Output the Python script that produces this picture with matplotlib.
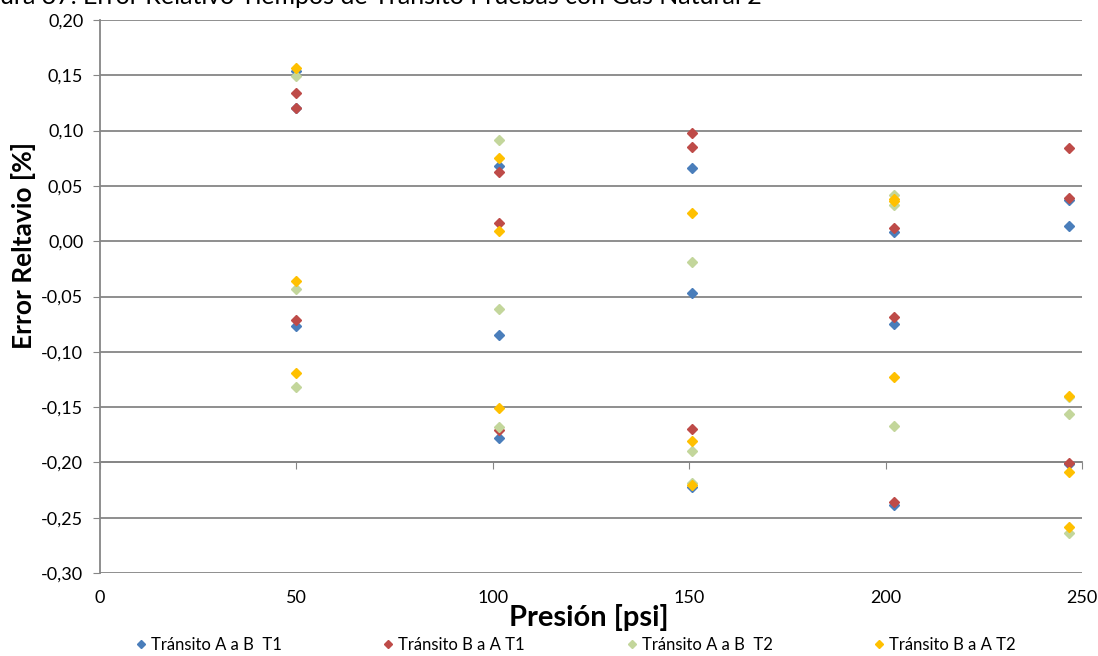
import matplotlib
matplotlib.use("Agg")
import matplotlib.pyplot as plt
from matplotlib.ticker import FuncFormatter, MultipleLocator

plt.rcParams['font.family'] = ['Lato', 'DejaVu Sans']

# Presiones de prueba [psi]
presion = [50, 101.5, 150.8, 202, 246.6]

# Error relativo, tres repeticiones por presion
ab_t1 = [[0.154, 0.120, -0.077], [0.068, -0.085, -0.178], [0.066, -0.047, -0.2225],
         [0.0086, -0.075, -0.2385], [0.0373, 0.014, -0.2015]]
ba_t1 = [[0.134, 0.1205, -0.0712], [0.0623, 0.0167, -0.1707], [0.0981, 0.0855, -0.1698],
         [0.0117, -0.0683, -0.2355], [0.084, 0.0388, -0.2008]]
ab_t2 = [[0.149, -0.0435, -0.1315], [0.0915, -0.061, -0.1677], [-0.0191, -0.1894, -0.219],
         [0.0418, 0.0327, -0.1668], [-0.1405, -0.1562, -0.2636]]
ba_t2 = [[0.157, -0.0357, -0.1195], [0.075, 0.0095, -0.151], [0.0258, -0.1807, -0.2205],
         [0.0379, 0.036, -0.123], [-0.1397, -0.2084, -0.2587]]

series = [ab_t1, ba_t1, ab_t2, ba_t2]
nombres = ["Tránsito A a B  T1", "Tránsito B a A T1", "Tránsito A a B  T2", "Tránsito B a A T2"]
colores = ["#4a7ebb", "#be4b48", "#c3d69b", "#ffc000"]

fig = plt.figure(figsize=(10.98, 6.56), dpi=100)
ax = fig.add_axes([0.0911, 0.1265, 0.8944, 0.843])

for datos, nombre, color in zip(series, nombres, colores):
    xs, ys = [], []
    for p, vals in zip(presion, datos):
        for v in vals:
            xs.append(p)
            ys.append(v)
    ax.plot(xs, ys, linestyle='none', marker='D', markersize=5.5, color=color,
            markeredgecolor=color, label=nombre, zorder=3)

ax.set_xlim(0, 250)
ax.set_ylim(-0.30, 0.20)
ax.yaxis.set_major_locator(MultipleLocator(0.05))
ax.xaxis.set_major_locator(MultipleLocator(50))
ax.yaxis.set_major_formatter(FuncFormatter(lambda v, p: f"{v:.2f}".replace('.', ',')))

# Rejilla horizontal
ax.yaxis.grid(True, color='#868686', linewidth=1.3)
ax.set_axisbelow(True)

for s in ['top', 'right']:
    ax.spines[s].set_visible(False)
ax.spines['left'].set_color('#868686')
ax.spines['left'].set_linewidth(1.3)
# eje x cruza en -0,20
ax.spines['bottom'].set_position(('data', -0.20))
ax.spines['bottom'].set_color('#868686')
ax.spines['bottom'].set_linewidth(1.3)
ax.tick_params(axis='x', direction='out', length=5, color='#868686', labelbottom=False)
ax.tick_params(axis='y', direction='out', length=5, color='#868686', labelsize=13,
               labelcolor='#000000', pad=7)

sec = ax.secondary_xaxis('bottom')
sec.xaxis.set_major_locator(MultipleLocator(50))
sec.tick_params(length=0, labelsize=13, pad=12)
sec.spines['bottom'].set_visible(False)

ax.set_ylabel("Error Reltavio [%]", fontsize=19, fontweight='bold')
ax.yaxis.set_label_coords(-0.065, 0.593)
fig.text(0.536, 0.059, "Presión [psi]", fontsize=21, fontweight='bold', ha='center', va='center')

fig.text(-0.03, 0.994, "Figura 37. Error Relativo Tiempos de Tránsito Pruebas con Gas Natural 2",
         fontsize=18, ha='left', va='baseline')

fig.legend(loc='center', bbox_to_anchor=(0.523, 0.017), ncol=4, frameon=False,
           fontsize=12, markerscale=0.7, handletextpad=0.1, columnspacing=5.9,
           handlelength=1.0)

fig.savefig("out.png", dpi=100)
